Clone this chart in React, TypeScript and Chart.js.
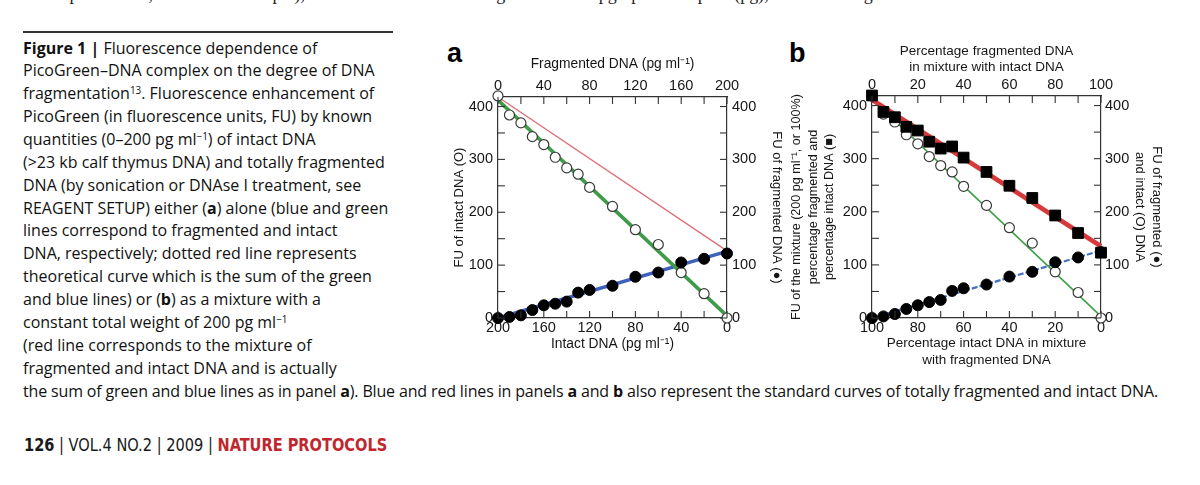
import React, { useEffect, useRef } from "react";
import { Chart, registerables } from "chart.js";

Chart.register(...registerables);

// ---------- Panel a data ----------
const aFragAmount = [0, 10, 20, 30, 40, 50, 60, 70, 80, 100, 120, 140, 160, 180, 200];
const aFragFU = [0, 2, 5, 15, 24, 27, 31, 48, 53, 61, 78, 86, 105, 112, 122];
const aIntactAmount = [200, 190, 180, 170, 160, 150, 140, 130, 120, 100, 80, 60, 40, 20, 0];
const aIntactFU = [420, 384, 369, 343, 328, 304, 284, 272, 247, 211, 167, 139, 86, 46, 0];
const aGreenFitX = [200, 0];
const aGreenFitY = [412, 4];
const aBlueFitX = [0, 200];
const aBlueFitY = [0, 126];
const aRedSumX = [0, 200];
const aRedSumY = [418, 127];

// ---------- Panel b data ----------
const bPctFragmented = [0, 5, 10, 15, 20, 25, 30, 35, 40, 50, 60, 70, 80, 90, 100];
const bMixtureFU = [419, 388, 378, 360, 353, 332, 319, 323, 302, 275, 249, 226, 193, 160, 123];
const bFragFU = [0, 3, 7.5, 17, 24, 30, 34, 51, 56, 63, 78, 87, 105, 114, 124];
const bPctIntact = [100, 95, 90, 85, 80, 75, 70, 65, 60, 50, 40, 30, 20, 10, 0];
const bIntactFU = [418, 384, 369, 345, 328, 304, 287, 275, 248, 212, 170, 141, 87, 48, 0];
const bRedFitX = [0, 100];
const bRedFitY = [411, 135];
const bGreenFitX = [100, 0];
const bGreenFitY = [412, 3];
const bBlueFitX = [0, 100];
const bBlueFitY = [0, 127];

// ---------- axes ----------
const yMin = 0;
const yMax = 418;
const yStep = 100;
const aXMax = 200;
const aXStep = 40;
const bXMax = 100;
const bXStep = 20;

const FONT = "'Liberation Sans', Arial, Helvetica, sans-serif";
const INK = "#161616";

const pts = (xs: number[], ys: number[]) => xs.map((x, i) => ({ x, y: ys[i] }));

type Pad = { top?: number; bottom?: number };

function axis(
  position: "top" | "bottom" | "left" | "right",
  max: number,
  step: number,
  reverse: boolean,
  title: string | string[],
  titleSize: number,
  titleLh: number,
  titlePad: Pad,
  tickPad: number,
  size: number
) {
  return {
    type: "linear",
    position,
    min: 0,
    max,
    reverse,
    ticks: {
      stepSize: step,
      padding: tickPad,
      font: { family: FONT, size: 14.5 },
      color: INK,
      autoSkip: false,
      maxRotation: 0,
      includeBounds: false,
      callback: (v: number) => (Math.abs(v % step) < 1e-6 ? String(v) : ""),
    },
    grid: { display: false, drawTicks: false, tickLength: 0 },
    border: { display: true, color: "#333", width: 1.2 },
    title: {
      display: true,
      text: title,
      color: INK,
      font: { family: FONT, size: titleSize, lineHeight: titleLh },
      padding: { top: titlePad.top ?? 0, bottom: titlePad.bottom ?? 0 },
    },
    afterFit: (s: any) => {
      if (position === "top" || position === "bottom") s.height = size;
      else s.width = size;
    },
  };
}

const inwardTicks = {
  id: "inwardTicks",
  afterDatasetsDraw(chart: any, _args: any, opts: any) {
    const { ctx, chartArea: ca } = chart;
    ctx.save();
    ctx.strokeStyle = "#333";
    ctx.lineWidth = 1.1;
    for (const spec of opts.specs || []) {
      const sc = chart.scales[spec.id];
      const pos = sc.options.position;
      for (let v = sc.min; v <= sc.max + 1e-9; v += spec.step) {
        const p = sc.getPixelForValue(v);
        const L = 7;
        ctx.beginPath();
        if (pos === "bottom") { ctx.moveTo(p, ca.bottom); ctx.lineTo(p, ca.bottom - L); }
        else if (pos === "top") { ctx.moveTo(p, ca.top); ctx.lineTo(p, ca.top + L); }
        else if (pos === "left") { ctx.moveTo(ca.left, p); ctx.lineTo(ca.left + L, p); }
        else { ctx.moveTo(ca.right, p); ctx.lineTo(ca.right - L, p); }
        ctx.stroke();
      }
    }
    ctx.restore();
  },
};

const openCircle = {
  pointStyle: "circle",
  pointRadius: 5,
  pointBorderColor: "#3a3a3a",
  pointBorderWidth: 1.2,
  pointBackgroundColor: "#ffffff",
  showLine: false,
  clip: false,
};
const filledCircle = {
  pointStyle: "circle",
  pointRadius: 5.5,
  pointBorderColor: "#000",
  pointBorderWidth: 1,
  pointBackgroundColor: "#000",
  showLine: false,
  clip: false,
};
const filledSquare = {
  pointStyle: "rect",
  pointRadius: 7.6,
  pointBorderColor: "#000",
  pointBorderWidth: 1,
  pointBackgroundColor: "#000",
  showLine: false,
  clip: false,
};
const fitLine = (color: string, width: number, dash: number[] = []) => ({
  showLine: true,
  pointRadius: 0,
  borderColor: color,
  borderWidth: width,
  borderDash: dash,
  borderCapStyle: "butt",
  clip: false,
});

const baseOptions = {
  responsive: false,
  animation: false,
  events: [],
  layout: { padding: 0 },
  plugins: { legend: { display: false }, tooltip: { enabled: false } },
};

const configA: any = {
  type: "scatter",
  data: {
    datasets: [
      { ...filledCircle, data: pts(aFragAmount, aFragFU), xAxisID: "xFrag", yAxisID: "y" },
      { ...openCircle, data: pts(aIntactAmount, aIntactFU), xAxisID: "xIntact", yAxisID: "y" },
      { ...fitLine("#df6c76", 1.3), data: pts(aRedSumX, aRedSumY), xAxisID: "xFrag", yAxisID: "y" },
      { ...fitLine("#3f9a4a", 3.6), data: pts(aGreenFitX, aGreenFitY), xAxisID: "xIntact", yAxisID: "y" },
      { ...fitLine("#3e60bd", 3.6), data: pts(aBlueFitX, aBlueFitY), xAxisID: "xFrag", yAxisID: "y" },
    ],
  },
  options: {
    ...baseOptions,
    scales: {
      xFrag: axis("top", aXMax, aXStep, false, "Fragmented DNA (pg ml⁻¹)", 13.8, 1.2, { top: 8 }, 2.5, 49),
      xIntact: axis("bottom", aXMax, aXStep, true, "Intact DNA (pg ml⁻¹)", 13.8, 1.2, { bottom: 2 }, 1, 36),
      y: { ...axis("left", yMax, yStep, false, "FU of intact DNA (O)", 13, 1.2, { top: 8 }, 5, 54), min: yMin },
      y2: { ...axis("right", yMax, yStep, false, "FU of fragmented DNA (●)", 13, 1.2, { top: 4 }, 5, 61), min: yMin },
    },
    plugins: {
      ...baseOptions.plugins,
      inwardTicks: {
        specs: [
          { id: "xFrag", step: 20 },
          { id: "xIntact", step: 20 },
          { id: "y", step: 50 },
          { id: "y2", step: 50 },
        ],
      },
    },
  },
  plugins: [inwardTicks],
};

const configB: any = {
  type: "scatter",
  data: {
    datasets: [
      { ...filledSquare, data: pts(bPctFragmented, bMixtureFU), xAxisID: "xFrag", yAxisID: "y" },
      { ...filledCircle, data: pts(bPctFragmented, bFragFU), xAxisID: "xFrag", yAxisID: "y" },
      { ...openCircle, data: pts(bPctIntact, bIntactFU), xAxisID: "xIntact", yAxisID: "y" },
      { ...fitLine("#d63b3b", 4.6), data: pts(bRedFitX, bRedFitY), xAxisID: "xFrag", yAxisID: "y" },
      { ...fitLine("#3f9f48", 1.6), data: pts(bGreenFitX, bGreenFitY), xAxisID: "xIntact", yAxisID: "y" },
      { ...fitLine("#4a6fc2", 2.2, [6, 2]), data: pts(bBlueFitX, bBlueFitY), xAxisID: "xFrag", yAxisID: "y" },
    ],
  },
  options: {
    ...baseOptions,
    scales: {
      xFrag: axis("top", bXMax, bXStep, false, ["Percentage fragmented DNA", "in mixture with intact DNA"], 13.5, 1.15, { top: 7.5 }, 2.5, 60),
      xIntact: axis("bottom", bXMax, bXStep, true, ["Percentage intact DNA in mixture", "with fragmented DNA"], 13.5, 1.2, { bottom: 2 }, 1, 52),
      y: {
        ...axis("left", yMax, yStep, false, ["FU of the mixture (200 pg ml⁻¹, or 100%)", "percentage fragmented and", "percentage intact DNA (■)"], 12.6, 1.3, { top: 8.5 }, 5, 92),
        min: yMin,
      },
      y2: { ...axis("right", yMax, yStep, false, ["FU of fragmented (●)", "and intact (O) DNA"], 13, 1.3, { top: 2 }, 4, 66), min: yMin },
    },
    plugins: {
      ...baseOptions.plugins,
      inwardTicks: {
        specs: [
          { id: "xFrag", step: 10 },
          { id: "xIntact", step: 10 },
          { id: "y", step: 50 },
          { id: "y2", step: 50 },
        ],
      },
    },
  },
  plugins: [inwardTicks],
};

function ChartCanvas({ config, left, top, width, height }: any) {
  const ref = useRef<HTMLCanvasElement>(null);
  useEffect(() => {
    const c = new Chart(ref.current as HTMLCanvasElement, config);
    return () => c.destroy();
  }, []);
  return (
    <canvas
      ref={ref}
      width={width}
      height={height}
      style={{ position: "absolute", left, top, width, height }}
    />
  );
}

const CAP_FONT = "'Open Sans', 'Noto Sans', sans-serif";
const sup = { fontSize: "0.62em", verticalAlign: "0.55em", lineHeight: 0 } as const;

const captionLines: React.ReactNode[] = [
  <><b>Figure 1</b> <b>|</b> Fluorescence dependence of</>,
  <>PicoGreen–DNA complex on the degree of DNA</>,
  <>fragmentation<span style={sup}>13</span>. Fluorescence enhancement of</>,
  <>PicoGreen (in fluorescence units, FU) by known</>,
  <>quantities (0–200 pg ml<span style={sup}>−1</span>) of intact DNA</>,
  <>(&gt;23 kb calf thymus DNA) and totally fragmented</>,
  <>DNA (by sonication or DNAse I treatment, see</>,
  <>REAGENT SETUP) either (<b>a</b>) alone (blue and green</>,
  <>lines correspond to fragmented and intact</>,
  <>DNA, respectively; dotted red line represents</>,
  <>theoretical curve which is the sum of the green</>,
  <>and blue lines) or (<b>b</b>) as a mixture with a</>,
  <>constant total weight of 200 pg ml<span style={sup}>−1</span></>,
  <>(red line corresponds to the mixture of</>,
  <>fragmented and intact DNA and is actually</>,
  <>the sum of green and blue lines as in panel <b>a</b>). Blue and red lines in panels <b>a</b> and <b>b</b> also represent the standard curves of totally fragmented and intact DNA.</>,
];

export default function App() {
  const LINE_H = 22.87;
  return (
    <div
      style={{
        position: "absolute",
        left: 0,
        top: 0,
        width: 1200,
        height: 485,
        overflow: "hidden",
        background: "#fff",
      }}
    >
      {/* cropped running text at the top of the page */}
      <div
        style={{
          position: "absolute",
          left: 40,
          top: -16.5,
          fontFamily: "'Liberation Serif', serif",
          fontSize: 18,
          lineHeight: "20px",
          whiteSpace: "nowrap",
          color: "#222",
          wordSpacing: 10,
        }}
      >
        se parameters, the test sample), was used at the range of 200 pg per sample (pg), with sizing
      </div>
      <div style={{ position: "absolute", left: 23, top: 31, width: 370, height: 1.6, background: "#333" }} />

      {captionLines.map((ln, i) => (
        <div
          key={i}
          style={{
            position: "absolute",
            left: 23,
            top: 36.5 + i * LINE_H,
            height: LINE_H,
            lineHeight: `${LINE_H}px`,
            fontFamily: CAP_FONT,
            fontSize: 16,
            color: "#111",
            whiteSpace: "nowrap",
            letterSpacing: i === captionLines.length - 1 ? "-0.15px" : undefined,
          }}
        >
          {ln}
        </div>
      ))}

      <div
        style={{
          position: "absolute",
          left: 24,
          top: 433,
          fontFamily: "'Liberation Sans Narrow', 'DejaVu Sans Condensed', sans-serif",
          fontSize: 18,
          lineHeight: "24px",
          whiteSpace: "nowrap",
          color: "#1a1a1a",
          transform: "scaleX(0.9)",
          transformOrigin: "0 50%",
        }}
      >
        <b>126</b> | VOL.4 NO.2 | 2009 | <b style={{ color: "#c0272d" }}>NATURE PROTOCOLS</b>
      </div>

      <div style={{ position: "absolute", left: 447, top: 38, fontFamily: FONT, fontWeight: "bold", fontSize: 27, lineHeight: "30px" }}>a</div>
      <div style={{ position: "absolute", left: 789, top: 38, fontFamily: FONT, fontWeight: "bold", fontSize: 27, lineHeight: "30px" }}>b</div>

      <ChartCanvas config={configA} left={444} top={48} width={344} height={306} />
      <ChartCanvas config={configB} left={780} top={36} width={387} height={334} />
    </div>
  );
}
